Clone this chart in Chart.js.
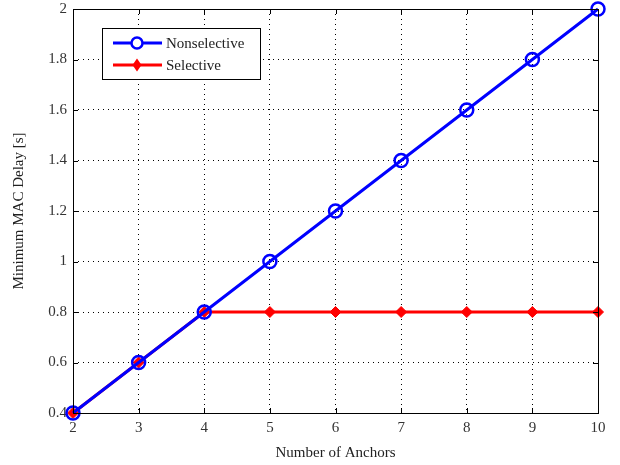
<!DOCTYPE html>
<html>
<head>
<meta charset="utf-8">
<script src="https://cdn.jsdelivr.net/npm/chart.js@4"></script>
<style>
  body { margin: 0; background: #fff; }
  #wrap { width: 620px; height: 465px; }
</style>
</head>
<body>
<div id="wrap"><canvas id="chart" width="620" height="465"></canvas></div>
<script>
const anchors = [2, 3, 4, 5, 6, 7, 8, 9, 10];
const nonselective = [0.4, 0.6, 0.8, 1.0, 1.2, 1.4, 1.6, 1.8, 2.0];
const selective = [0.4, 0.6, 0.8, 0.8, 0.8, 0.8, 0.8, 0.8, 0.8];
const seriesNames = ['Nonselective', 'Selective'];

const font = "'Liberation Serif', 'DejaVu Serif', serif";

// box, inward ticks and legend like the matlab figure
const boxPlugin = {
  id: 'box',
  afterDatasetsDraw(chart) {
    const ctx = chart.ctx;
    const a = chart.chartArea;
    const xs = chart.scales.x, ys = chart.scales.y;
    ctx.save();
    ctx.strokeStyle = '#000';
    ctx.lineWidth = 1;
    ctx.setLineDash([]);
    ctx.strokeRect(a.left + 0.5, a.top + 0.5, a.right - a.left, a.bottom - a.top);
    ctx.beginPath();
    xs.ticks.forEach(t => {
      const px = Math.round(xs.getPixelForValue(t.value)) + 0.5;
      ctx.moveTo(px, a.bottom); ctx.lineTo(px, a.bottom - 5);
      ctx.moveTo(px, a.top); ctx.lineTo(px, a.top + 5);
    });
    ys.ticks.forEach(t => {
      const py = Math.round(ys.getPixelForValue(t.value)) + 0.5;
      ctx.moveTo(a.left, py); ctx.lineTo(a.left + 5, py);
      ctx.moveTo(a.right, py); ctx.lineTo(a.right - 5, py);
    });
    ctx.stroke();
    ctx.restore();
  },
  afterDraw(chart) {
    const ctx = chart.ctx;
    ctx.save();
    // legend
    const lx = 102, ly = 28, lw = 158, lh = 51;
    ctx.fillStyle = '#fff';
    ctx.strokeStyle = '#000';
    ctx.lineWidth = 1;
    ctx.fillRect(lx, ly, lw, lh);
    ctx.strokeRect(lx + 0.5, ly + 0.5, lw, lh);
    const rows = [
      { name: seriesNames[0], color: '#0000ff', y: ly + 15, marker: 'circle' },
      { name: seriesNames[1], color: '#ff0000', y: ly + 37, marker: 'diamond' }
    ];
    rows.forEach(r => {
      ctx.strokeStyle = r.color;
      ctx.lineWidth = 3;
      ctx.beginPath();
      ctx.moveTo(lx + 11, r.y); ctx.lineTo(lx + 60, r.y);
      ctx.stroke();
      const cx = lx + 35;
      if (r.marker === 'circle') {
        ctx.fillStyle = '#fff';
        ctx.lineWidth = 2.5;
        ctx.beginPath(); ctx.arc(cx, r.y, 5.5, 0, Math.PI * 2); ctx.fill(); ctx.stroke();
      } else {
        ctx.fillStyle = r.color;
        ctx.beginPath();
        ctx.moveTo(cx, r.y - 6.5); ctx.lineTo(cx + 4.5, r.y); ctx.lineTo(cx, r.y + 6.5); ctx.lineTo(cx - 4.5, r.y);
        ctx.closePath(); ctx.fill();
      }
      ctx.fillStyle = '#222';
      ctx.font = '15px ' + font;
      ctx.textBaseline = 'middle';
      ctx.fillText(r.name, lx + 64, r.y + 1);
    });
    ctx.restore();
  }
};

new Chart(document.getElementById('chart'), {
  type: 'line',
  data: {
    datasets: [
      {
        label: seriesNames[0],
        data: anchors.map((a, i) => ({ x: a, y: nonselective[i] })),
        borderColor: '#0000ff',
        borderWidth: 3,
        pointStyle: 'circle',
        pointRadius: 6.5,
        pointBorderWidth: 2.5,
        pointBackgroundColor: 'rgba(255,255,255,0)',
        pointBorderColor: '#0000ff',
        clip: false,
        tension: 0
      },
      {
        label: seriesNames[1],
        data: anchors.map((a, i) => ({ x: a, y: selective[i] })),
        borderColor: '#ff0000',
        borderWidth: 3,
        pointStyle: 'rectRot',
        pointRadius: 5.5,
        pointBorderWidth: 1,
        pointBackgroundColor: '#ff0000',
        pointBorderColor: '#ff0000',
        clip: false,
        tension: 0
      }
    ]
  },
  options: {
    responsive: false,
    animation: false,
    layout: { padding: { top: 8, right: 22, bottom: 0, left: 0 } },
    plugins: { legend: { display: false }, tooltip: { enabled: false } },
    scales: {
      x: {
        type: 'linear',
        min: 2, max: 10,
        border: { display: false, dash: [1, 4] },
        grid: { color: '#000', lineWidth: 1, drawTicks: false },
        ticks: { stepSize: 1, color: '#333', padding: 6, font: { family: font, size: 15 } },
        title: { display: true, text: 'Number of Anchors', color: '#222', padding: { top: 7, bottom: 3 }, font: { family: font, size: 15 } },
        afterFit(s) { s.height = 52; s.paddingLeft = 0; s.paddingRight = 0; }
      },
      y: {
        min: 0.4, max: 2,
        border: { display: false, dash: [1, 4] },
        grid: { color: '#000', lineWidth: 1, drawTicks: false },
        ticks: { stepSize: 0.2, color: '#333', padding: 6, font: { family: font, size: 15 },
          callback: v => Math.round(v * 10) / 10 },
        title: { display: true, text: 'Minimum MAC Delay [s]', color: '#222', padding: { top: 10, bottom: 4 }, font: { family: font, size: 15 } },
        afterFit(s) { s.width = 73; s.paddingTop = 0; s.paddingBottom = 0; }
      }
    }
  },
  plugins: [boxPlugin]
});
</script>
</body>
</html>
